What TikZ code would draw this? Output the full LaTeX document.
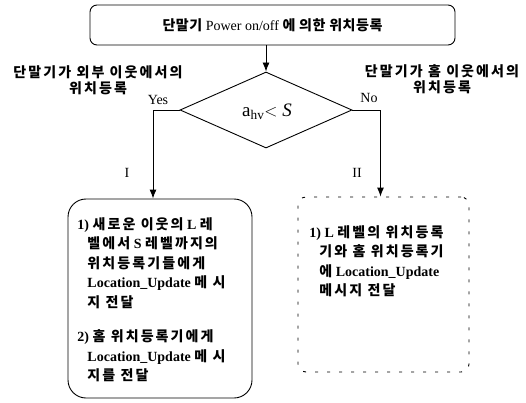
\documentclass[tikz,border=0pt]{standalone}
\usepackage{fontspec}
\setmainfont{Liberation Serif}
\newfontfamily\krfont[LetterSpace=15]{Noto Sans CJK KR}
\newfontfamily\krtight[LetterSpace=4]{Noto Sans CJK KR}
\newcommand{\kr}[1]{{\krfont\bfseries #1}}
\newcommand{\krt}[1]{{\krtight\bfseries #1}}
\usetikzlibrary{shapes.geometric, arrows.meta, positioning, calc}

\begin{document}
\begin{tikzpicture}[x=1pt,y=-1pt,line width=0.9pt,
  >={Latex[length=9pt,width=7pt]},
  every node/.style={font=\fontsize{14}{16}\selectfont},
  startbox/.style={draw, rounded corners=7pt, minimum width=365pt, minimum height=40pt},
  decision/.style={draw, diamond, aspect=2.2, minimum width=172pt, minimum height=76pt, inner sep=0pt},
  yesbox/.style={draw, rounded corners=18pt, minimum width=184pt, minimum height=199pt},
  nobox/.style={draw, dash pattern=on 3pt off 9pt, rounded corners=8pt, minimum width=171pt, minimum height=175pt},
  desc/.style={align=left, inner sep=0pt, anchor=north west, font=\fontsize{14}{19.5}\selectfont\bfseries},
]
\useasboundingbox (0,0) rectangle (526,403);

% start and decision
\node[startbox] (start) at (272.5,25) {\krt{단말기} Power on/off \krt{에 의한 위치등록}};
\node[decision] (cond) at (266,110) {};
\node[font=\fontsize{19}{19}\selectfont] (condtxt) at (267,112) {a\textsubscript{hv}$<$ \textit{S}};

% branch labels
\node[align=center] (outer) at (98,80) {\kr{단말기가 외부 이웃에서의}\\\kr{위치등록}};
\node[align=center] (home) at (442,79) {\kr{단말기가 홈 이웃에서의}\\\kr{위치등록}};
\node (yes) at (158,100) {Yes};
\node (no) at (369,98) {No};
\node (caseI) at (127,173) {I};
\node (caseII) at (357,173) {II};

% result boxes
\node[yesbox] (yesres) at (160,298.5) {};
\node[nobox] (nores) at (383.5,284.5) {};

\node[desc] (yestxt) at (77,217) {1) \kr{새로운 이웃의} L \kr{레}\\
  \hspace*{10pt}\kr{벨에서} S \kr{레벨까지의}\\
  \hspace*{10pt}\kr{위치등록기들에게}\\
  \hspace*{10pt}Location\_Update \kr{메 시}\\
  \hspace*{10pt}\kr{지 전달}\\[15pt]
  2) \kr{홈 위치등록기에게}\\
  \hspace*{10pt}Location\_Update \kr{메 시}\\
  \hspace*{10pt}\kr{지를 전달}};
\node[desc] (notxt) at (309,225) {1) L \kr{레벨의 위치등록}\\
  \hspace*{10pt}\kr{기와 홈 위치등록기}\\
  \hspace*{10pt}\kr{에} Location\_Update\\
  \hspace*{10pt}\kr{메시지 전달}};

% connectors
\draw[->] (cond.north |- start.south) -- (cond.north);
\draw[->] (cond.west) -| ([xshift=-7pt]yesres.north);
\draw[->] (cond.east) -| ([xshift=-3pt]nores.north);
\end{tikzpicture}
\end{document}
